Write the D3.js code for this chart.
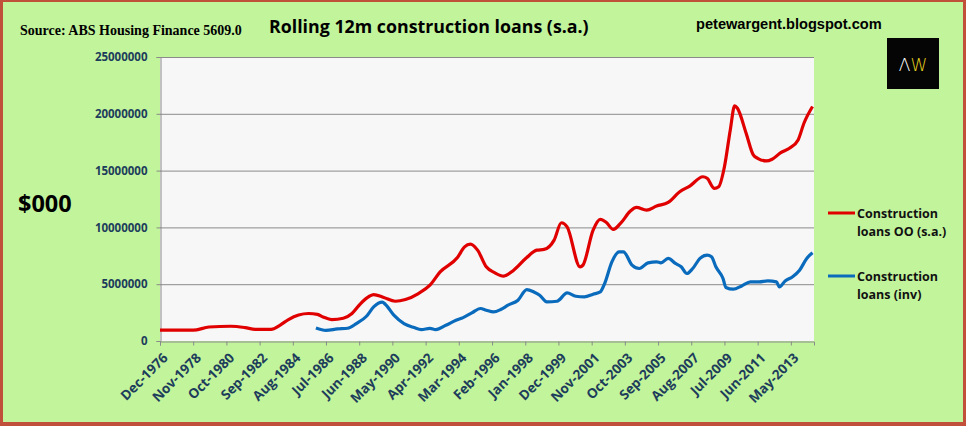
<!DOCTYPE html>
<html>
<head>
<meta charset="utf-8">
<script src="https://cdn.jsdelivr.net/npm/d3@7"></script>
<style>
  body { margin: 0; padding: 0; background: #fff; }
  svg { display: block; }
</style>
</head>
<body>
<div id="chart"></div>
<script>
// Rolling 12m construction loans, $000
const ooDates = ["1976-12", "1978-11", "1979-10", "1981-01", "1981-11", "1982-06", "1983-05", "1983-11",
  "1984-05", "1984-12", "1985-07", "1986-01", "1986-05", "1986-11", "1987-07", "1988-01", "1988-07",
  "1989-01", "1989-04", "1989-11", "1990-07", "1991-02", "1991-11", "1992-07", "1993-02", "1994-02",
  "1994-07", "1994-11", "1995-04", "1995-10", "1996-04", "1996-10", "1997-05", "1998-02", "1998-09",
  "1999-02", "1999-09", "2000-02", "2000-06", "2001-03", "2001-05", "2001-12", "2002-05", "2002-09",
  "2003-02", "2003-07", "2004-02", "2004-06", "2005-01", "2005-08", "2006-04", "2006-12", "2007-07",
  "2008-04", "2008-07", "2008-12", "2009-03", "2009-07", "2009-11", "2010-02", "2010-04", "2010-10",
  "2011-03", "2011-06", "2011-12", "2012-04", "2012-10", "2013-04", "2013-10", "2014-02", "2014-08"];
const ooValues = [950000, 950000, 1230000, 1300000, 1180000, 1030000, 1030000, 1380000,
  1890000, 2290000, 2420000, 2350000, 2120000, 1890000, 2000000, 2420000, 3300000,
  3940000, 4090000, 3830000, 3500000, 3650000, 4180000, 4910000, 6080000, 7350000,
  8290000, 8530000, 8000000, 6530000, 6000000, 5710000, 6230000, 7350000, 8000000,
  8060000, 8880000, 10410000, 10050000, 6530000, 6680000, 9760000, 10700000, 10450000,
  9820000, 10350000, 11460000, 11760000, 11520000, 11880000, 12200000, 13140000, 13640000,
  14460000, 14320000, 13440000, 13580000, 15340000, 18580000, 20700000, 20490000, 18290000,
  16380000, 16080000, 15850000, 16000000, 16580000, 16970000, 17700000, 19170000, 20640000];

const invDates = ["1985-12", "1986-07", "1987-03", "1987-10", "1988-04", "1988-11", "1989-04", "1989-10",
  "1989-12", "1990-06", "1991-01", "1991-08", "1992-01", "1992-07", "1992-11", "1993-06", "1994-01",
  "1994-06", "1994-12", "1995-06", "1995-10", "1996-03", "1996-08", "1997-01", "1997-08", "1998-02",
  "1998-07", "1998-11", "1999-04", "1999-11", "2000-06", "2000-12", "2001-06", "2001-12", "2002-05",
  "2002-08", "2003-01", "2003-06", "2003-09", "2004-03", "2004-08", "2005-02", "2005-08", "2005-11",
  "2006-04", "2006-09", "2007-01", "2007-05", "2007-09", "2008-02", "2008-07", "2008-10", "2009-01",
  "2009-06", "2009-08", "2010-01", "2010-07", "2011-01", "2011-07", "2012-01", "2012-07", "2012-09",
  "2013-01", "2013-06", "2013-11", "2014-04", "2014-08"];
const invValues = [1150000, 940000, 1060000, 1120000, 1530000, 2180000, 3000000, 3420000,
  3240000, 2270000, 1530000, 1180000, 1000000, 1120000, 1000000, 1380000, 1830000,
  2060000, 2470000, 2860000, 2710000, 2560000, 2770000, 3150000, 3590000, 4530000,
  4320000, 4030000, 3440000, 3500000, 4230000, 3940000, 3880000, 4120000, 4320000,
  5060000, 6970000, 7850000, 7850000, 6680000, 6380000, 6880000, 6970000, 6880000,
  7270000, 6830000, 6530000, 5940000, 6380000, 7270000, 7560000, 7410000, 6530000,
  5500000, 4710000, 4560000, 4850000, 5200000, 5200000, 5290000, 5200000, 4760000,
  5290000, 5640000, 6230000, 7270000, 7760000];

const xTickLabels = ["Dec-1976", "Nov-1978", "Oct-1980", "Sep-1982", "Aug-1984", "Jul-1986", "Jun-1988",
  "May-1990", "Apr-1992", "Mar-1994", "Feb-1996", "Jan-1998", "Dec-1999", "Nov-2001", "Oct-2003",
  "Sep-2005", "Aug-2007", "Jul-2009", "Jun-2011", "May-2013"];
const yTicks = [0, 5000000, 10000000, 15000000, 20000000, 25000000];
const seriesNames = [["Construction", "loans OO (s.a.)"], ["Construction", "loans (inv)"]];
const seriesColors = ["#e00000", "#0a6bbd"];

const W = 966, H = 426;
const plot = {left: 160, right: 814, top: 57, bottom: 341};

const parseMonth = d3.utcParse("%Y-%m");
const parseTick = d3.utcParse("%b-%Y");

const svg = d3.select("#chart").append("svg")
    .attr("width", W)
    .attr("height", H);

// frame + green background
svg.append("rect")
    .attr("x", 0).attr("y", 0).attr("width", W).attr("height", H)
    .attr("fill", "#c0503a");
svg.append("rect")
    .attr("x", 3).attr("y", 2).attr("width", W - 6).attr("height", H - 6)
    .attr("fill", "#c2f49c");

// plot area
svg.append("rect")
    .attr("x", plot.left).attr("y", plot.top)
    .attr("width", plot.right - plot.left).attr("height", plot.bottom - plot.top)
    .attr("fill", "#f7f7f7");

const x = d3.scaleUtc()
    .domain([parseMonth("1976-12"), parseMonth("2014-09")])
    .range([plot.left, plot.right]);

const y = d3.scaleLinear()
    .domain([0, 25000000])
    .range([plot.bottom, plot.top]);

// gridlines
svg.append("g")
    .selectAll("line")
    .data(yTicks.slice(1))
    .join("line")
    .attr("x1", plot.left).attr("x2", plot.right)
    .attr("y1", d => y(d) + 0.5).attr("y2", d => y(d) + 0.5)
    .attr("stroke", "#8a8a8a")
    .attr("stroke-width", 1);

// y axis
const yAxis = svg.append("g")
    .attr("transform", `translate(${plot.left + 0.5},0)`)
    .call(d3.axisLeft(y).tickValues(yTicks).tickFormat(d3.format("d")).tickSize(4).tickPadding(9));
yAxis.select(".domain").attr("stroke", "#8a8a8a");
yAxis.selectAll(".tick line").attr("stroke", "#8a8a8a");
yAxis.selectAll("text")
    .attr("fill", "#1d3d5b")
    .style("font-family", "'Open Sans', sans-serif")
    .style("font-weight", "bold")
    .style("font-size", "11.5px");

// x axis
const xAxis = svg.append("g")
    .attr("transform", `translate(0,${plot.bottom + 0.5})`)
    .call(d3.axisBottom(x).tickValues(xTickLabels.map(parseTick)).tickFormat(d3.utcFormat("%b-%Y")).tickSize(4));
xAxis.select(".domain").attr("stroke", "#8a8a8a");
xAxis.selectAll(".tick line").attr("stroke", "#8a8a8a");
xAxis.selectAll("text")
    .attr("fill", "#1d3d5b")
    .style("font-family", "'Open Sans', sans-serif")
    .style("font-weight", "bold")
    .style("font-size", "13.5px")
    .style("text-anchor", "end")
    .attr("dx", "0")
    .attr("dy", "0.55em")
    .attr("transform", "translate(-2,7) rotate(-45)");

// lines
const line = d3.line()
    .x(d => x(d.date))
    .y(d => y(d.value))
    .curve(d3.curveMonotoneX);

const ooData = ooDates.map((d, i) => ({date: parseMonth(d), value: ooValues[i]}));
const invData = invDates.map((d, i) => ({date: parseMonth(d), value: invValues[i]}));

[ooData, invData].forEach((data, i) => {
    svg.append("path")
        .datum(data)
        .attr("fill", "none")
        .attr("stroke", seriesColors[i])
        .attr("stroke-width", 3.2)
        .attr("stroke-linejoin", "round")
        .attr("d", line);
});

// legend
seriesNames.forEach((names, i) => {
    const ly = 213 + i * 63;
    svg.append("line")
        .attr("x1", 828).attr("x2", 855)
        .attr("y1", ly).attr("y2", ly)
        .attr("stroke", seriesColors[i])
        .attr("stroke-width", 3);
    names.forEach((t, j) => {
        svg.append("text")
            .attr("x", 857)
            .attr("y", ly + 5 + j * 18)
            .attr("fill", "#111")
            .style("font-family", "'Open Sans', sans-serif")
            .style("font-weight", "bold")
            .style("font-size", "12.5px")
            .text(t);
    });
});

// titles
svg.append("text")
    .attr("x", 20).attr("y", 35)
    .style("font-family", "'Liberation Serif', serif")
    .style("font-weight", "bold")
    .style("font-size", "14px")
    .text("Source: ABS Housing Finance 5609.0");

svg.append("text")
    .attr("x", 269).attr("y", 33)
    .style("font-family", "'Open Sans', sans-serif")
    .style("font-weight", "bold")
    .style("font-size", "17.8px")
    .text("Rolling 12m construction loans (s.a.)");

svg.append("text")
    .attr("x", 696).attr("y", 29)
    .style("font-family", "'Liberation Sans', sans-serif")
    .style("font-weight", "bold")
    .style("font-size", "14.6px")
    .text("petewargent.blogspot.com");

svg.append("text")
    .attr("x", 18).attr("y", 212)
    .style("font-family", "'Open Sans', sans-serif")
    .style("font-weight", "bold")
    .style("font-size", "23.5px")
    .text("$000");

// logo
svg.append("rect")
    .attr("x", 887).attr("y", 38).attr("width", 52).attr("height", 51)
    .attr("fill", "#050505");
const logo = svg.append("text")
    .attr("x", 913).attr("y", 71)
    .attr("text-anchor", "middle")
    .style("font-family", "'DejaVu Sans', sans-serif")
    .style("font-weight", "300")
    .style("font-size", "17px");
logo.append("tspan").attr("fill", "#ffffff").text("Λ");
logo.append("tspan").attr("fill", "#e8d21c").text("W");
</script>
</body>
</html>
